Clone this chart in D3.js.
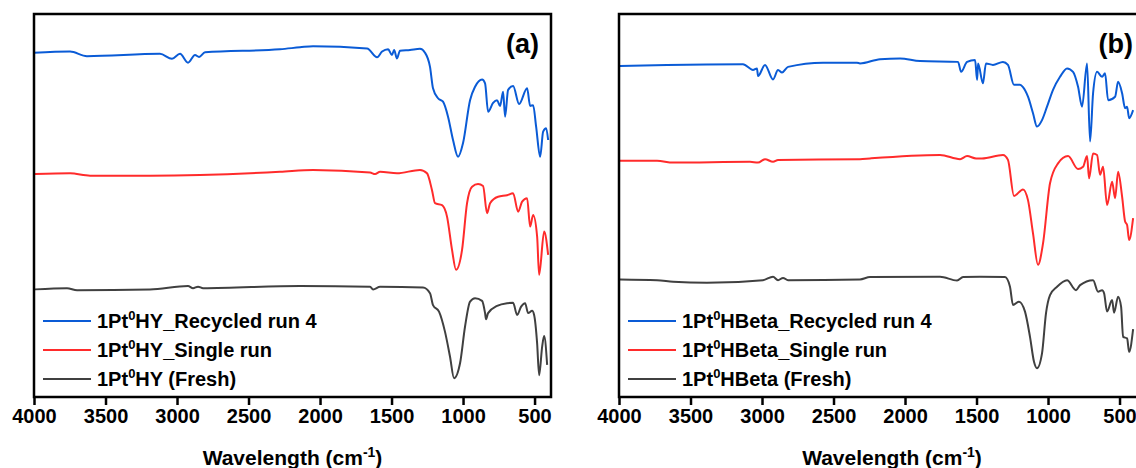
<!DOCTYPE html>
<html>
<head>
<meta charset="utf-8">
<script src="https://cdn.jsdelivr.net/npm/d3@7"></script>
<style>
  body { margin: 0; background: #fff; }
  svg { display: block; }
  text { font-family: "Liberation Sans", Arial, sans-serif; font-weight: bold; fill: #000; }
</style>
</head>
<body>
<div id="chart"></div>
<script>
// wavenumber (cm-1), transmittance (a.u., stacked)
const hyRecycled = [
  [4000, 89.9], [3748, 90.2], [3630, 89.0], [3119, 89.6], [3035, 88.3], [2979, 89.6],
  [2923, 87.3], [2874, 89.3], [2846, 88.8], [2804, 90.0], [2280, 90.8], [2140, 91.3],
  [2049, 91.6], [1671, 91.0], [1601, 88.7], [1566, 90.2], [1524, 90.8], [1497, 89.3],
  [1482, 90.6], [1462, 88.4], [1441, 90.4], [1371, 90.6], [1301, 90.9], [1266, 89.9],
  [1231, 86.2], [1210, 80.6], [1175, 78.0], [1140, 77.1], [1105, 73.2], [1070, 67.1],
  [1035, 62.7], [1000, 66.3], [951, 77.5], [916, 81.0], [867, 82.9], [846, 81.9],
  [825, 74.5], [790, 76.8], [762, 77.5], [741, 76.0], [720, 79.7], [706, 73.2],
  [685, 80.2], [650, 81.2], [608, 76.5], [552, 80.6], [531, 76.0], [510, 76.2],
  [489, 70.6], [461, 62.7], [440, 69.3], [419, 70.2], [405, 67.1]
];
const hySingle = [
  [3993, 58.2], [3748, 58.4], [3608, 57.8], [3189, 57.8], [2280, 58.8], [2049, 59.3],
  [1650, 58.6], [1615, 58.2], [1580, 58.8], [1462, 58.4], [1301, 59.3], [1252, 58.4],
  [1217, 54.0], [1196, 50.6], [1147, 50.1], [1112, 47.1], [1077, 38.4], [1049, 33.2],
  [1007, 38.4], [972, 50.6], [937, 54.9], [895, 55.6], [860, 55.1], [832, 48.0],
  [811, 50.6], [755, 52.3], [692, 52.7], [650, 53.2], [615, 48.4], [587, 51.0],
  [552, 51.9], [531, 44.5], [510, 47.5], [482, 41.9], [468, 31.9], [433, 43.2], [405, 37.1]
];
const hyFresh = [
  [3993, 28.1], [3769, 28.4], [3699, 27.9], [3189, 28.1], [2923, 29.0], [2888, 28.4],
  [2853, 28.8], [2818, 28.4], [2140, 29.0], [1650, 28.8], [1629, 28.1], [1580, 28.8],
  [1280, 28.6], [1231, 27.1], [1210, 24.0], [1168, 22.3], [1126, 17.0], [1091, 10.5],
  [1063, 4.9], [1021, 8.8], [986, 18.4], [951, 24.9], [916, 25.8], [867, 25.1],
  [846, 21.9], [839, 20.3], [825, 21.9], [762, 23.8], [692, 24.5], [650, 24.6],
  [622, 21.4], [594, 23.6], [566, 24.5], [545, 21.9], [517, 22.5], [503, 21.4],
  [482, 14.0], [468, 5.7], [447, 13.1], [433, 15.9], [412, 8.4]
];
const betaRecycled = [
  [3993, 86.4], [3664, 86.7], [3133, 86.9], [3063, 85.4], [3035, 85.8], [3028, 83.8],
  [2979, 86.7], [2923, 82.9], [2888, 85.4], [2860, 84.7], [2818, 86.2], [2573, 87.3],
  [2336, 87.3], [2315, 87.1], [2175, 88.2], [2035, 88.4], [1895, 87.7], [1629, 87.5],
  [1608, 84.9], [1566, 87.5], [1510, 88.0], [1496, 82.8], [1489, 87.1], [1455, 81.9],
  [1434, 87.1], [1385, 86.7], [1315, 87.5], [1280, 86.7], [1238, 81.5], [1196, 81.5],
  [1175, 80.9], [1140, 78.4], [1105, 74.1], [1077, 70.6], [1042, 72.3], [1007, 75.8],
  [965, 80.2], [916, 83.6], [867, 85.8], [825, 84.9], [790, 81.0], [762, 75.8],
  [727, 87.1], [706, 66.7], [685, 79.3], [657, 84.9], [622, 83.6], [601, 84.5],
  [580, 77.5], [531, 78.4], [510, 82.3], [482, 79.3], [461, 75.4], [447, 75.8],
  [433, 72.8], [405, 74.9]
];
const betaSingle = [
  [3993, 61.7], [3734, 61.7], [3622, 61.2], [3084, 61.4], [3028, 61.2], [2979, 62.1],
  [2923, 61.4], [2888, 61.9], [2315, 62.1], [2245, 62.3], [1755, 63.2], [1615, 62.1],
  [1566, 62.9], [1503, 62.3], [1462, 62.3], [1315, 63.2], [1280, 61.9], [1238, 52.5],
  [1175, 54.2], [1140, 51.4], [1105, 42.7], [1070, 34.5], [1035, 40.1], [986, 55.8],
  [930, 61.0], [860, 62.9], [790, 59.5], [755, 60.1], [727, 62.9], [713, 57.1],
  [685, 63.6], [657, 63.2], [636, 58.0], [615, 60.1], [587, 50.1], [552, 56.2],
  [531, 51.9], [510, 58.8], [482, 52.3], [461, 45.8], [447, 44.9], [433, 41.0], [405, 46.7]
];
const betaFresh = [
  [3993, 30.7], [3734, 30.5], [3622, 30.1], [3385, 29.8], [2993, 30.5], [2923, 31.4],
  [2888, 30.5], [2853, 31.1], [2818, 30.5], [2315, 30.7], [2245, 31.3], [1755, 31.4],
  [1636, 30.4], [1594, 31.3], [1476, 31.4], [1301, 31.3], [1266, 28.8], [1245, 24.0],
  [1203, 24.9], [1161, 22.3], [1126, 15.7], [1098, 9.2], [1077, 7.5], [1042, 11.4],
  [1014, 21.9], [986, 26.6], [937, 28.8], [867, 30.5], [804, 27.9], [776, 29.2],
  [685, 30.5], [650, 27.5], [622, 27.9], [608, 27.1], [587, 22.3], [552, 25.3],
  [538, 22.0], [510, 26.2], [489, 23.6], [475, 15.7], [447, 15.3], [433, 11.8], [405, 17.7]
];

const xTicks = [4000, 3500, 3000, 2500, 2000, 1500, 1000, 500];
const seriesColors = ["#0a5bd6", "#ff2b2b", "#404040"];
const hyNames = ["HY_Recycled run 4", "HY_Single run", "HY (Fresh)"];
const betaNames = ["HBeta_Recycled run 4", "HBeta_Single run", "HBeta (Fresh)"];
const panelLetters = ["(a)", "(b)"];

const W = 1136, H = 468;
const svg = d3.select("#chart").append("svg")
  .attr("width", W).attr("height", H);
svg.append("rect").attr("width", W).attr("height", H).attr("fill", "#fff");

const plotTop = 14, plotBottom = 397;
const y = d3.scaleLinear().domain([0, 100]).range([plotBottom, plotTop]);

function drawPanel(left, right, xEnd, series, names, letter, letterX) {
  const x = d3.scaleLinear().domain([4000, xEnd]).range([left, right]);
  const g = svg.append("g");

  const line = d3.line()
    .x(d => x(d[0]))
    .y(d => y(d[1]))
    .curve(d3.curveMonotoneX);

  series.forEach((s, i) => {
    g.append("path")
      .datum(s)
      .attr("fill", "none")
      .attr("stroke", seriesColors[i])
      .attr("stroke-width", 2)
      .attr("stroke-linejoin", "round")
      .attr("d", line);
  });

  // frame
  g.append("rect")
    .attr("x", left).attr("y", plotTop)
    .attr("width", right - left).attr("height", plotBottom - plotTop)
    .attr("fill", "none").attr("stroke", "#000").attr("stroke-width", 2.5);

  const axis = g.append("g")
    .attr("transform", `translate(0,${plotBottom})`)
    .call(d3.axisBottom(x).tickValues(xTicks).tickSize(8).tickPadding(4).tickFormat(d3.format("d")));
  axis.select(".domain").remove();
  axis.selectAll(".tick line").attr("stroke", "#000").attr("stroke-width", 2.5);
  axis.selectAll(".tick text").style("font-size", "20px").style("font-family", "'Liberation Sans', Arial, sans-serif").style("font-weight", "bold").attr("fill", "#000");

  // axis title
  const t = g.append("text")
    .attr("x", (left + right) / 2).attr("y", 465)
    .attr("text-anchor", "middle").style("font-size", "21px");
  t.append("tspan").text("Wavelength (cm");
  t.append("tspan").attr("dy", -8).style("font-size", "14px").text("-1");
  t.append("tspan").attr("dy", 8).text(")");

  // panel letter
  g.append("text")
    .attr("x", letterX).attr("y", 53)
    .attr("text-anchor", "end").style("font-size", "27px").text(letter);

  // legend
  const legendY = [321, 350, 379];
  names.forEach((n, i) => {
    g.append("line")
      .attr("x1", left + 9).attr("x2", left + 57)
      .attr("y1", legendY[i]).attr("y2", legendY[i])
      .attr("stroke", seriesColors[i]).attr("stroke-width", 2);
    const lt = g.append("text")
      .attr("x", left + 63).attr("y", legendY[i] + 7)
      .style("font-size", "20px");
    lt.append("tspan").text("1Pt");
    lt.append("tspan").attr("dy", -8).style("font-size", "13px").text("0");
    lt.append("tspan").attr("dy", 8).text(n);
  });
}

drawPanel(34, 551, 385, [hyRecycled, hySingle, hyFresh], hyNames, panelLetters[0], 539);
drawPanel(619, 1165, 182, [betaRecycled, betaSingle, betaFresh], betaNames, panelLetters[1], 1133);
</script>
</body>
</html>
